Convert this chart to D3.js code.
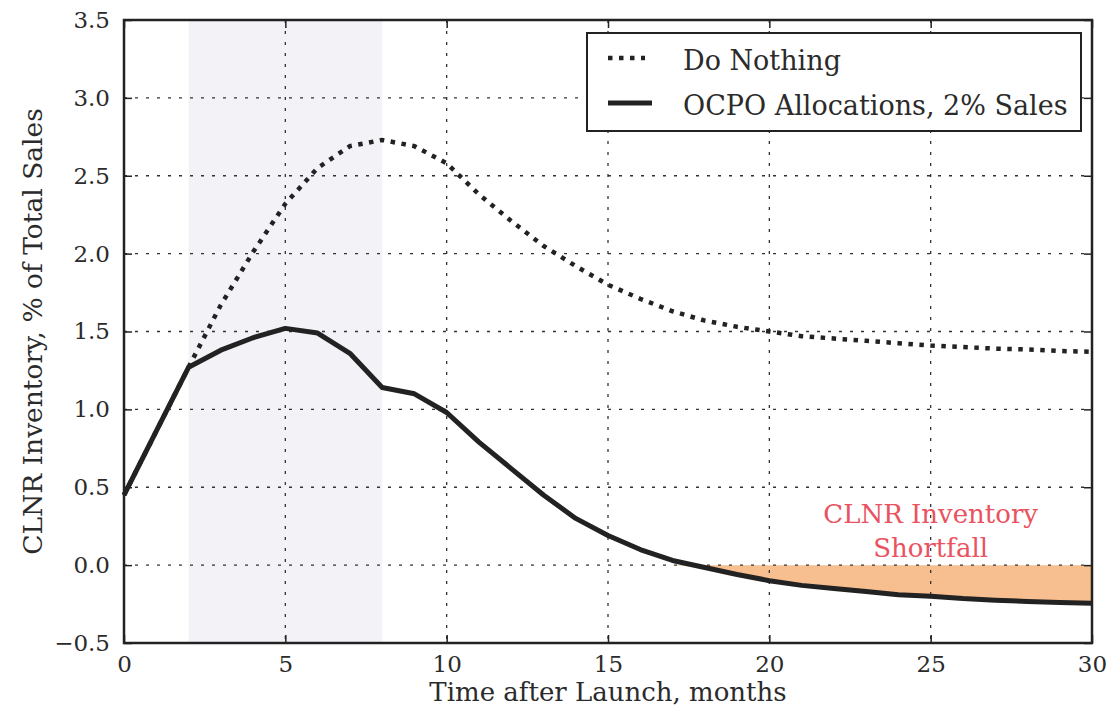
<!DOCTYPE html>
<html>
<head>
<meta charset="utf-8">
<script src="https://cdn.jsdelivr.net/npm/d3@7"></script>
<style>
  body { margin: 0; background: #fff; }
  text { font-family: "DejaVu Serif", serif; fill: #2b2b2b; }
</style>
</head>
<body>
<div id="chart"></div>
<script>
// data
var months = [0, 1, 2, 3, 4, 5, 6, 7, 8, 9, 10, 11, 12, 13, 14, 15, 16, 17, 18, 19, 20,
              21, 22, 23, 24, 25, 26, 27, 28, 29, 30];
var doNothing = [0.45, 0.86, 1.27, 1.67, 2.01, 2.32, 2.55, 2.69, 2.73, 2.69, 2.58,
                 2.38, 2.21, 2.05, 1.92, 1.80, 1.71, 1.63, 1.57, 1.53, 1.50,
                 1.47, 1.455, 1.44, 1.425, 1.41, 1.40, 1.39, 1.385, 1.375, 1.37];
var ocpo = [0.45, 0.86, 1.27, 1.38, 1.46, 1.52, 1.49, 1.36, 1.14, 1.10, 0.98,
            0.79, 0.62, 0.45, 0.30, 0.19, 0.10, 0.03, -0.015, -0.06, -0.10,
            -0.13, -0.15, -0.17, -0.19, -0.20, -0.215, -0.225, -0.233, -0.24, -0.245];
var launchWindow = [2, 8];
var xTicks = [0, 5, 10, 15, 20, 25, 30];
var yTicks = [-0.5, 0, 0.5, 1, 1.5, 2, 2.5, 3, 3.5];
var legendLabels = ["Do Nothing", "OCPO Allocations, 2% Sales"];
var noteLines = ["CLNR Inventory", "Shortfall"];

var W = 1112, H = 715;
var margin = {top: 20, right: 20, bottom: 72, left: 124};
var width = W - margin.left - margin.right,
    height = H - margin.top - margin.bottom;

var x = d3.scaleLinear().domain([0, 30]).range([0, width]);
var y = d3.scaleLinear().domain([-0.5, 3.5]).range([height, 0]);

var svg = d3.select("#chart").append("svg")
    .attr("width", W)
    .attr("height", H);

var g = svg.append("g")
    .attr("transform", "translate(" + margin.left + "," + margin.top + ")");

// shaded launch window
g.append("rect")
    .attr("x", x(launchWindow[0]))
    .attr("y", 0)
    .attr("width", x(launchWindow[1]) - x(launchWindow[0]))
    .attr("height", height)
    .style("fill", "#f2f2f7");

var rows = months.map(function (m, i) {
    return {m: m, dn: doNothing[i], oc: ocpo[i]};
});

// shortfall area between zero and the OCPO curve
var shortfall = d3.area()
    .x(function (d) { return x(d.m) })
    .y0(y(0))
    .y1(function (d) { return y(Math.min(d.oc, 0)) });

g.append("path")
    .datum(rows)
    .attr("d", shortfall)
    .style("fill", "#f7bf90");

// grid
g.selectAll(".hgrid")
    .data(yTicks.slice(1, -1))
    .enter().append("line")
    .attr("class", "hgrid")
    .attr("x1", 0).attr("x2", width)
    .attr("y1", function (d) { return y(d) })
    .attr("y2", function (d) { return y(d) })
    .style("stroke", "#333")
    .style("stroke-width", 1.3)
    .style("stroke-dasharray", "3,8");

g.selectAll(".vgrid")
    .data(xTicks.slice(1, -1))
    .enter().append("line")
    .attr("class", "vgrid")
    .attr("y1", 0).attr("y2", height)
    .attr("x1", function (d) { return x(d) })
    .attr("x2", function (d) { return x(d) })
    .style("stroke", "#333")
    .style("stroke-width", 1.3)
    .style("stroke-dasharray", "3,8");

// series
var lineDn = d3.line()
    .x(function (d) { return x(d.m) })
    .y(function (d) { return y(d.dn) });
var lineOc = d3.line()
    .x(function (d) { return x(d.m) })
    .y(function (d) { return y(d.oc) });

g.append("path")
    .datum(rows)
    .attr("d", lineDn)
    .style("fill", "none")
    .style("stroke", "#222")
    .style("stroke-width", 4.5)
    .style("stroke-dasharray", "4.5,6.5");

g.append("path")
    .datum(rows)
    .attr("d", lineOc)
    .style("fill", "none")
    .style("stroke", "#222")
    .style("stroke-width", 5)
    .style("stroke-linejoin", "round");

// axes with inward ticks on all sides
var fmt = d3.format(".1f");
function styleAxis(sel) {
    sel.select(".domain").remove();
    sel.selectAll(".tick line").style("stroke", "#222").style("stroke-width", 1.5);
    sel.selectAll(".tick text")
        .style("font-family", "DejaVu Serif")
        .style("font-size", "23px")
        .style("fill", "#2b2b2b");
}

g.append("g")
    .call(d3.axisLeft(y).tickValues(yTicks).tickFormat(fmt).tickSize(-8).tickPadding(14))
    .call(styleAxis);
g.append("g")
    .attr("transform", "translate(" + width + ",0)")
    .call(d3.axisRight(y).tickValues(yTicks).tickFormat("").tickSize(-8))
    .call(styleAxis);
g.append("g")
    .attr("transform", "translate(0," + height + ")")
    .call(d3.axisBottom(x).tickValues(xTicks).tickFormat(d3.format("d")).tickSize(-8).tickPadding(13))
    .call(styleAxis);
g.append("g")
    .call(d3.axisTop(x).tickValues(xTicks).tickFormat("").tickSize(-8))
    .call(styleAxis);

// frame
g.append("rect")
    .attr("width", width)
    .attr("height", height)
    .style("fill", "none")
    .style("stroke", "#222")
    .style("stroke-width", 2.5);

// shortfall note
g.append("text")
    .attr("x", x(25))
    .attr("y", y(0) - 42)
    .attr("text-anchor", "middle")
    .style("font-size", "26px")
    .style("fill", "#e9525e")
    .selectAll("tspan")
    .data(noteLines)
    .enter().append("tspan")
    .attr("x", x(25))
    .attr("dy", function (d, i) { return i ? 34 : 0 })
    .text(function (d) { return d });

// axis titles
svg.append("text")
    .attr("x", margin.left + width / 2)
    .attr("y", 701)
    .attr("text-anchor", "middle")
    .style("font-size", "26px")
    .text("Time after Launch, months");

svg.append("text")
    .attr("transform", "translate(42," + (margin.top + height / 2) + ") rotate(-90)")
    .attr("text-anchor", "middle")
    .style("font-size", "26.5px")
    .text("CLNR Inventory, % of Total Sales");

// legend
var legend = svg.append("g").attr("transform", "translate(587,33)");
legend.append("rect")
    .attr("width", 494)
    .attr("height", 98)
    .style("fill", "#fff")
    .style("stroke", "#222")
    .style("stroke-width", 2);

var items = legend.selectAll(".item")
    .data(legendLabels)
    .enter().append("g")
    .attr("class", "item")
    .attr("transform", function (d, i) { return "translate(0," + (25 + i * 45) + ")" });

items.append("line")
    .attr("x1", 21).attr("x2", function (d, i) { return i ? 65 : 58 })
    .style("stroke", "#222")
    .style("stroke-width", function (d, i) { return i ? 5 : 4.5 })
    .style("stroke-dasharray", function (d, i) { return i ? null : "4.5,6.5" });

items.append("text")
    .attr("x", 96)
    .attr("y", 12)
    .style("font-size", "27px")
    .text(function (d) { return d });
</script>
</body>
</html>
